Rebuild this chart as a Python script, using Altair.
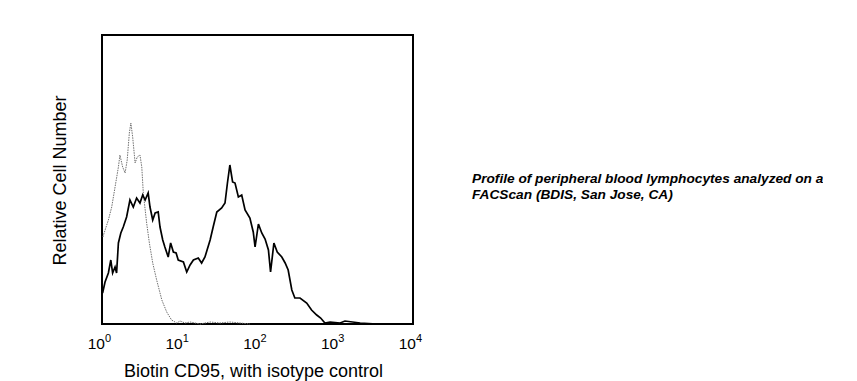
import altair as alt
import pandas as pd

# CD95 (solid black) histogram: channel (1024 ch over 4 decades) and relative count
cd95_ch = [2, 10, 21, 29, 35, 43, 48, 54, 62, 70, 81, 92, 103, 114, 125, 134, 142, 152, 158, 167,
           175, 185, 191, 200, 207, 218, 226, 235, 244, 251, 268, 279, 290, 301, 317, 328, 339, 356,
           366, 378, 394, 405, 413, 421, 430, 438, 449, 460, 471, 487, 498, 504, 515, 526, 537, 548,
           555, 566, 577, 592, 603, 613, 625, 635, 652, 674, 690, 707, 720, 734, 751, 784, 800, 850, 905]
cd95_cnt = [31, 42, 51, 64, 51, 57, 51, 81, 91, 97, 107, 124, 117, 126, 121, 129, 124, 131, 117, 104,
            111, 112, 97, 84, 77, 67, 81, 72, 71, 64, 62, 52, 59, 64, 66, 61, 67, 84,
            97, 112, 116, 121, 141, 159, 142, 141, 127, 129, 114, 106, 92, 77, 100, 91, 85, 74,
            52, 81, 72, 67, 61, 54, 34, 26, 26, 21, 14, 9, 6, 1, 2, 1, 3, 1, 0]

# Isotype control (dotted grey) histogram
iso_ch = [3, 7, 21, 32, 43, 54, 59, 68, 76, 83, 90, 95, 101, 109, 116, 125, 131, 136, 147, 156,
          167, 180, 197, 213, 229, 246, 257, 273, 290, 323, 356, 388, 421, 454, 487]
iso_cnt = [87, 91, 104, 117, 137, 157, 169, 157, 151, 164, 191, 201, 187, 161, 167, 169, 157, 131, 101, 81,
           61, 44, 24, 12, 4, 1, 3, 1, 2, 0, 2, 1, 2, 1, 0]

tick_values = [1, 10, 100, 1000, 10000]
tick_base = ["10", "10", "10", "10", "10"]
tick_exp = ["0", "1", "2", "3", "4"]

note_lines = ["Profile of peripheral blood lymphocytes analyzed on a",
              "FACScan (BDIS, San Jose, CA)"]

W, H = 311, 289
FONT = "Liberation Sans"

cd95 = pd.DataFrame({"ch": cd95_ch, "count": cd95_cnt})
iso = pd.DataFrame({"ch": iso_ch, "count": iso_cnt})
ticks = pd.DataFrame({"fl": tick_values, "base": tick_base, "exp": tick_exp})

xscale = alt.Scale(type="log", domain=[1, 10000], nice=False)
yscale = alt.Scale(domain=[0, 289], nice=False, zero=True)

xaxis = alt.Axis(title="Biotin CD95, with isotype control", labels=False, ticks=False,
                 domain=False, grid=False, titleFont=FONT, titleFontSize=18,
                 titleFontWeight="normal", titleColor="black", titleX=151, titleY=52,
                 titleAlign="center", titleBaseline="alphabetic")
yaxis = alt.Axis(title="Relative Cell Number", labels=False, ticks=False, domain=False,
                 grid=False, titleFont=FONT, titleFontSize=18, titleFontWeight="normal",
                 titleColor="black", titleX=-42, titleY=145, titleAngle=270,
                 titleAlign="center", titleBaseline="middle")

iso_line = alt.Chart(iso).transform_calculate(
    fl="pow(10, datum.ch / 256)"
).mark_line(color="#707070", strokeWidth=1, strokeDash=[1.5, 1]).encode(
    x=alt.X("fl:Q", scale=xscale, axis=xaxis),
    y=alt.Y("count:Q", scale=yscale, axis=yaxis),
)

cd95_line = alt.Chart(cd95).transform_calculate(
    fl="pow(10, datum.ch / 256)"
).mark_line(color="black", strokeWidth=1.7).encode(
    x=alt.X("fl:Q", scale=xscale),
    y=alt.Y("count:Q", scale=yscale),
)

tick_base_text = alt.Chart(ticks).mark_text(
    font=FONT, fontSize=15.5, color="black", align="right", baseline="alphabetic", dx=3
).encode(x=alt.X("fl:Q", scale=xscale), y=alt.value(H + 25), text="base:N")

tick_exp_text = alt.Chart(ticks).mark_text(
    font=FONT, fontSize=11, color="black", align="left", baseline="alphabetic", dx=3
).encode(x=alt.X("fl:Q", scale=xscale), y=alt.value(H + 18), text="exp:N")

note = alt.Chart(pd.DataFrame({"a": [0]})).mark_text(
    font=FONT, fontSize=13.7, fontWeight="bold", fontStyle="italic", color="black",
    align="left", baseline="alphabetic", lineHeight=16
).encode(x=alt.value(370), y=alt.value(148), text=alt.value(note_lines))

chart = alt.layer(iso_line, cd95_line, tick_base_text, tick_exp_text, note).properties(
    width=W, height=H,
    autosize=alt.AutoSizeParams(type="none"),
    padding={"left": 94, "top": 27, "right": 410, "bottom": 58},
    background="white",
).configure_view(stroke="black", strokeWidth=2)

chart.save("out.html", embed_options={"renderer": "svg", "actions": False})
